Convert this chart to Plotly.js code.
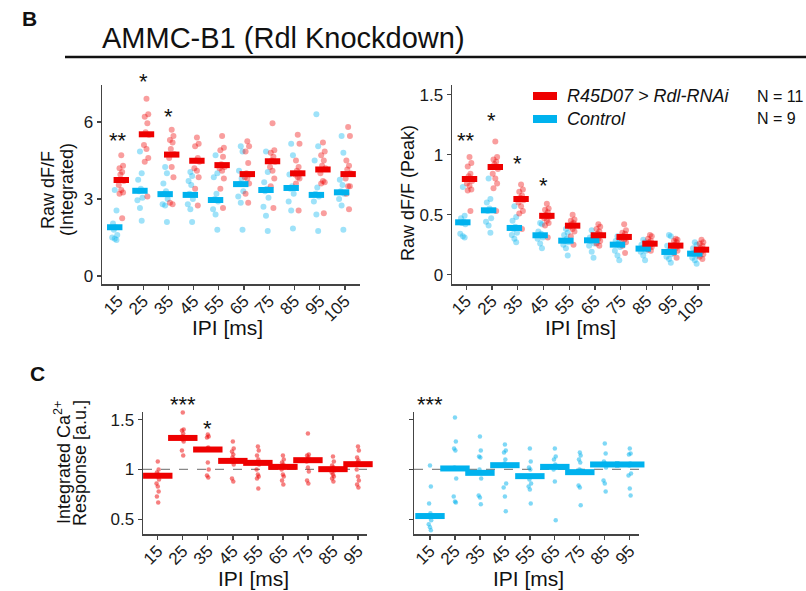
<!DOCTYPE html>
<html><head><meta charset="utf-8">
<script src="https://cdn.plot.ly/plotly-3.0.1.min.js"></script>
<style>html,body{margin:0;padding:0;background:#fff}#chart{width:806px;height:591px}</style>
</head><body><div id="chart"></div>
<script>
// ---------- DATA ----------
const ipiB = ["15","25","35","45","55","65","75","85","95","105"];
const ipiC = ["15","25","35","45","55","65","75","85","95"];

// Panel B left: Raw dF/F (Integrated)
const intCtl = [
 [3.35,2.55,2.05,1.9,1.8,1.6,1.5,1.45,1.4],
 [4.85,4.0,3.75,3.4,3.3,3.05,2.95,2.65,2.15],
 [4.25,4.0,3.6,3.3,3.2,3.0,2.8,2.75,2.1],
 [4.05,3.9,3.7,3.55,3.2,3.0,2.8,2.6,2.1],
 [4.7,4.0,3.85,3.2,3.0,2.9,2.6,2.4,1.8],
 [5.05,4.85,4.1,3.8,3.6,3.3,3.1,2.85,1.8],
 [4.85,4.05,3.65,3.4,3.3,3.05,2.7,2.35,1.75],
 [5.15,4.7,3.95,3.5,3.4,3.2,2.9,2.55,1.85],
 [6.3,5.05,4.5,3.45,3.2,3.1,2.9,2.4,1.75],
 [5.45,4.8,3.75,3.55,3.3,3.2,3.0,2.75,1.8]
];
const intCtlMean = [1.90,3.32,3.19,3.16,2.96,3.58,3.35,3.43,3.16,3.26];
const intRdl = [
 [4.7,4.3,4.2,4.05,3.95,3.7,3.55,3.35,3.25,3.2,2.25],
 [6.9,6.3,6.2,5.95,5.6,5.5,5.1,4.95,4.6,4.45,3.1],
 [5.7,5.45,5.3,5.2,4.95,4.75,4.6,4.25,3.85,2.85,2.8],
 [5.4,5.15,5.05,4.6,4.5,4.45,4.2,4.1,3.85,3.4,2.75],
 [5.45,5.0,4.9,4.65,4.35,4.25,4.2,4.1,3.8,3.4,2.65],
 [5.25,5.05,4.85,4.4,4.0,3.95,3.85,3.8,3.6,3.2,2.85],
 [5.95,4.9,4.8,4.65,4.5,4.45,4.25,4.1,3.8,3.5,2.65],
 [5.5,5.15,4.5,4.25,4.1,4.0,3.95,3.85,3.8,3.6,2.55],
 [5.2,4.85,4.7,4.5,4.3,4.2,4.0,3.7,3.65,3.6,2.45],
 [5.8,5.45,4.5,4.3,4.15,4.0,3.8,3.5,3.5,3.2,2.6]
];
const intRdlMean = [3.74,5.52,4.73,4.49,4.32,3.97,4.47,4.00,4.15,3.97];
const sigInt = ["**","*","*","","","","","","",""];

// Panel B right: Raw dF/F (Peak)
const peakCtl = [
 [0.73,0.49,0.47,0.44,0.43,0.42,0.34,0.32,0.31],
 [0.80,0.63,0.60,0.55,0.53,0.47,0.44,0.41,0.35],
 [0.57,0.48,0.45,0.40,0.38,0.35,0.33,0.30,0.27],
 [0.43,0.42,0.36,0.34,0.33,0.31,0.30,0.26,0.22],
 [0.38,0.35,0.33,0.30,0.28,0.27,0.25,0.22,0.16],
 [0.37,0.33,0.31,0.29,0.28,0.26,0.24,0.19,0.14],
 [0.32,0.30,0.28,0.26,0.25,0.23,0.20,0.16,0.12],
 [0.29,0.27,0.25,0.23,0.22,0.20,0.19,0.16,0.12],
 [0.33,0.32,0.24,0.21,0.19,0.17,0.15,0.13,0.10],
 [0.27,0.25,0.22,0.19,0.17,0.16,0.14,0.12,0.09]
];
const peakCtlMean = [0.436,0.536,0.389,0.328,0.283,0.286,0.250,0.217,0.189,0.175];
const peakRdl = [
 [0.98,0.93,0.90,0.84,0.82,0.78,0.76,0.74,0.71,0.70,0.53],
 [1.11,0.98,0.96,0.94,0.92,0.88,0.84,0.80,0.76,0.72,0.53],
 [0.75,0.71,0.69,0.66,0.64,0.62,0.60,0.57,0.53,0.51,0.38],
 [0.59,0.55,0.54,0.52,0.50,0.48,0.47,0.45,0.43,0.41,0.31],
 [0.50,0.46,0.45,0.43,0.42,0.41,0.40,0.38,0.36,0.32,0.25],
 [0.42,0.40,0.38,0.36,0.34,0.33,0.32,0.30,0.28,0.26,0.24],
 [0.42,0.37,0.35,0.34,0.32,0.31,0.30,0.29,0.27,0.24,0.18],
 [0.33,0.32,0.30,0.28,0.27,0.26,0.25,0.24,0.23,0.21,0.20],
 [0.30,0.29,0.28,0.27,0.25,0.24,0.23,0.22,0.20,0.18,0.14],
 [0.29,0.27,0.26,0.24,0.22,0.21,0.20,0.19,0.17,0.15,0.13]
];
const peakRdlMean = [0.797,0.897,0.630,0.490,0.408,0.328,0.314,0.258,0.242,0.208];
const sigPeak = ["**","*","*","*","","","","","",""];

// Panel C: normalised integrated Ca2+ response
const normRdl = [
 [1.08,1.0,0.97,0.95,0.93,0.90,0.86,0.83,0.78,0.73,0.67],
 [1.57,1.40,1.39,1.36,1.33,1.32,1.31,1.30,1.28,1.19,1.14],
 [1.35,1.33,1.32,1.22,1.21,1.20,1.20,1.07,1.0,0.94,0.92],
 [1.28,1.21,1.18,1.15,1.12,1.10,1.09,1.08,1.05,0.91,0.88],
 [1.23,1.19,1.14,1.10,1.07,1.05,1.00,0.95,0.93,0.91,0.81],
 [1.14,1.10,1.07,1.05,1.03,1.02,1.00,0.95,0.93,0.89,0.85],
 [1.36,1.15,1.14,1.12,1.10,1.09,1.08,1.02,0.98,0.89,0.86],
 [1.13,1.08,1.04,1.02,1.00,0.99,0.97,0.95,0.93,0.91,0.88],
 [1.23,1.19,1.12,1.09,1.07,1.05,1.0,0.93,0.89,0.85,0.82]
];
const normRdlMean = [0.937,1.316,1.200,1.086,1.066,1.026,1.093,1.003,1.053];
const sigNormRdl = ["","***","*","","","","","",""];
const normCtl = [
 [1.04,0.83,0.66,0.56,0.52,0.49,0.45,0.42,0.39],
 [1.52,1.28,1.21,1.19,1.02,0.91,0.73,0.68,0.67],
 [1.33,1.19,1.13,1.12,1.0,0.91,0.74,0.72,0.65],
 [1.25,1.19,1.17,1.10,1.06,0.86,0.82,0.73,0.58],
 [1.21,1.08,1.02,1.0,0.90,0.86,0.83,0.80,0.66],
 [1.21,1.13,1.10,1.05,1.03,1.02,1.0,0.88,0.49],
 [1.17,1.14,1.10,1.07,1.0,0.99,0.84,0.82,0.64],
 [1.26,1.16,1.08,1.06,1.05,1.02,0.89,0.86,0.78],
 [1.21,1.16,1.15,1.06,1.04,0.96,0.94,0.81,0.74]
];
const normCtlMean = [0.533,1.010,0.966,1.043,0.933,1.026,0.973,1.050,1.050];
const sigNormCtl = ["***","","","","","","","",""];

const groupNames = ["R45D07 > Rdl-RNAi","Control"];
const groupN = ["N = 11","N = 9"];

// ---------- STYLE / LAYOUT ----------
const W = 806, H = 591;
const px = v => v / W, py = v => 1 - v / H;
const RED = "#EE0000", BLUE = "#00B2EE";
const RED_PT = "rgba(238,0,0,0.38)", BLUE_PT = "rgba(0,178,238,0.38)";
const FONT = "Liberation Sans, Arial, sans-serif";
const JIT = [0, 0.07, -0.07, 0.035, -0.035, 0.1, -0.1];

function pts(groups, ax, dodge, color, size, jscale) {
  const x = [], y = [];
  groups.forEach((vals, i) => vals.forEach((v, j) => { x.push(i + dodge + JIT[j % JIT.length] * jscale); y.push(v); }));
  return {type:"scatter", mode:"markers", x, y, xaxis:"x"+ax, yaxis:"y"+ax,
    marker:{color, size, line:{width:0}}, hoverinfo:"skip", showlegend:false, cliponaxis:false};
}
function means(m, ax, dodge, color, w, h) {
  return {type:"scatter", mode:"markers", x:m.map((_, i) => i + dodge), y:m, xaxis:"x"+ax, yaxis:"y"+ax,
    marker:{symbol:"line-ew", size:w, color, line:{color, width:h}}, hoverinfo:"skip", showlegend:false, cliponaxis:false};
}

const D = 0.13;
const data = [
  pts(intCtl, "", -D, BLUE_PT, 6, 1), pts(intRdl, "", D, RED_PT, 6, 1),
  means(intCtlMean, "", -D, BLUE, 11, 6), means(intRdlMean, "", D, RED, 11, 6),
  pts(peakCtl, "2", -D, BLUE_PT, 6, 1), pts(peakRdl, "2", D, RED_PT, 6, 1),
  means(peakCtlMean, "2", -D, BLUE, 11, 6), means(peakRdlMean, "2", D, RED, 11, 6),
  pts(normRdl, "3", 0, "rgba(238,0,0,0.5)", 4.5, 0.5), means(normRdlMean, "3", 0, RED, 21, 6),
  pts(normCtl, "4", 0, "rgba(0,178,238,0.5)", 4.5, 0.5), means(normCtlMean, "4", 0, BLUE, 21, 6)
];

const axBase = {showline:true, linecolor:"#444", linewidth:1.5, ticks:"outside", ticklen:4, tickwidth:1.3,
  tickcolor:"#444", showgrid:false, zeroline:false, fixedrange:true, tickfont:{size:17, color:"#1a1a1a", family:FONT}};
function xax(labels, x0, x1, r) {
  return Object.assign({}, axBase, {domain:[px(x0), px(x1)], range:r, tickmode:"array",
    tickvals:labels.map((_, i) => i), ticktext:labels, tickangle:-45, ticklabelstandoff:-5});
}
function yax(y0, y1, r, vals, show) {
  return Object.assign({}, axBase, {domain:[py(y1), py(y0)], range:r, tickmode:"array", tickvals:vals,
    showticklabels:show});
}

const ann = [];
function txt(x, y, text, o) {
  ann.push(Object.assign({x:px(x), y:py(y), xref:"paper", yref:"paper", text, showarrow:false,
    font:{family:FONT, size:20, color:"#111"}, xanchor:"center", yanchor:"middle"}, o || {}));
}
// significance marks: x on the category axis, y (pixel row) in paper space
function stars(sig, ax, rows) {
  sig.forEach((s, i) => { if (s) ann.push({x:i, y:py(rows[i]), xref:"x"+ax, yref:"paper", text:s, showarrow:false,
    font:{family:FONT, size:22, color:"#111"}, xanchor:"center", yanchor:"middle", yshift:-5}); });
}
stars(sigInt, "", [135, 77, 111]);
stars(sigPeak, "2", [135, 115, 158, 180]);
stars(sigNormRdl, "3", [0, 399, 423]);
stars(sigNormCtl, "4", [399]);

txt(29, 19, "<b>B</b>", {font:{family:FONT, size:21, color:"#111"}});
txt(37, 373, "<b>C</b>", {font:{family:FONT, size:21, color:"#111"}});
txt(100, 38, "AMMC-B1 (Rdl Knockdown)", {xanchor:"left", font:{family:FONT, size:29, color:"#111"}});
txt(48, 190, "Raw dF/F", {textangle:-90, font:{family:FONT, size:18, color:"#111"}});
txt(67, 190, "(Integrated)", {textangle:-90, font:{family:FONT, size:18, color:"#111"}});
txt(408, 193, "Raw dF/F (Peak)", {textangle:-90, font:{family:FONT, size:18, color:"#111"}});
txt(62, 463, "Integrated Ca<sup>2+</sup>", {textangle:-90, font:{family:FONT, size:18, color:"#111"}});
txt(80, 463, "Response [a.u.]", {textangle:-90, font:{family:FONT, size:18, color:"#111"}});
txt(227, 327, "IPI [ms]", {font:{family:FONT, size:21, color:"#111"}});
txt(580, 327, "IPI [ms]", {font:{family:FONT, size:21, color:"#111"}});
txt(253, 578, "IPI [ms]", {font:{family:FONT, size:21, color:"#111"}});
txt(528, 578, "IPI [ms]", {font:{family:FONT, size:21, color:"#111"}});
// legend
txt(565, 96, "<i>" + groupNames[0] + "</i>", {xanchor:"left", font:{family:FONT, size:18, color:"#111"}});
txt(565, 119, "<i>" + groupNames[1] + "</i>", {xanchor:"left", font:{family:FONT, size:18, color:"#111"}});
txt(755, 96, groupN[0], {xanchor:"left", font:{family:FONT, size:16, color:"#111"}});
txt(755, 119, groupN[1], {xanchor:"left", font:{family:FONT, size:16, color:"#111"}});

const shapes = [
  {type:"line", xref:"paper", yref:"paper", x0:px(65), x1:px(806), y0:py(57), y1:py(57), line:{color:"#111", width:2.5}},
  {type:"rect", xref:"paper", yref:"paper", x0:px(533), x1:px(557), y0:py(100), y1:py(92), fillcolor:RED, line:{width:0}},
  {type:"rect", xref:"paper", yref:"paper", x0:px(533), x1:px(557), y0:py(123), y1:py(115), fillcolor:BLUE, line:{width:0}},
  {type:"line", xref:"x3 domain", yref:"y3", x0:0, x1:1, y0:1, y1:1, line:{color:"#888", width:1.3, dash:"dash"}, layer:"below"},
  {type:"line", xref:"x4 domain", yref:"y4", x0:0, x1:1, y0:1, y1:1, line:{color:"#888", width:1.3, dash:"dash"}, layer:"below"}
];

const layout = {
  width:W, height:H, margin:{l:0, r:0, t:0, b:0}, paper_bgcolor:"#fff", plot_bgcolor:"rgba(0,0,0,0)",
  font:{family:FONT}, showlegend:false,
  xaxis: xax(ipiB, 102, 360, [-0.635, 9.6]),
  yaxis: yax(85, 284, [-0.31, 7.44], [0, 3, 6], true),
  xaxis2: Object.assign(xax(ipiB, 452, 710, [-0.55, 9.46]), {anchor:"y2"}),
  yaxis2: Object.assign(yax(85, 284, [-0.078, 1.58], [0, 0.5, 1, 1.5], true), {anchor:"x2"}),
  xaxis3: Object.assign(xax(ipiC, 143, 367, [-0.59, 8.36]), {anchor:"y3"}),
  yaxis3: Object.assign(yax(412, 534, [0.353, 1.576], [0.5, 1, 1.5], true), {anchor:"x3"}),
  xaxis4: Object.assign(xax(ipiC, 414, 639, [-0.64, 8.37]), {anchor:"y4"}),
  yaxis4: Object.assign(yax(412, 534, [0.353, 1.576], [0.5, 1, 1.5], false), {anchor:"x4"}),
  annotations: ann, shapes
};
Plotly.newPlot("chart", data, layout, {staticPlot:true, displayModeBar:false});
</script>
</body></html>
